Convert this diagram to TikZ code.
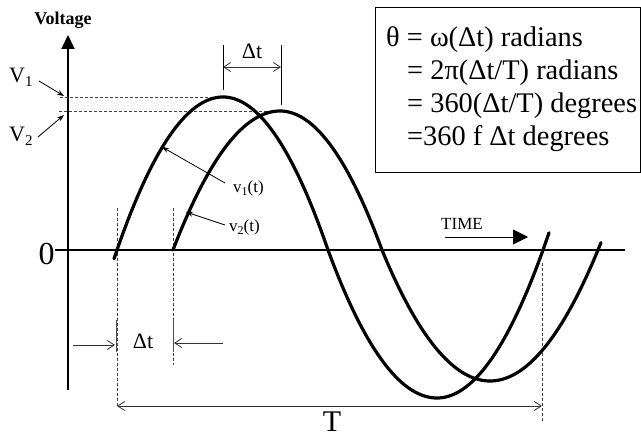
\documentclass[tikz,border=0pt]{standalone}
\usepackage{fontspec}
\setmainfont{Liberation Serif}
\usetikzlibrary{arrows.meta}
\begin{document}
\begin{tikzpicture}[x=1pt,y=-1pt,
  wave/.style={line width=3.2pt, line join=round, line cap=round},
  dashln/.style={line width=0.7pt, dash pattern=on 3pt off 2pt, black!75},
  dimln/.style={line width=0.8pt, black!80, >={Straight Barb[length=7pt,width=9pt]}},
  ptr/.style={line width=0.8pt, -{Stealth[length=7pt,width=5pt]}},
  txt/.style={inner sep=0pt, font=\fontsize{17}{20}\selectfont},
  boxtxt/.style={inner sep=0pt, anchor=base west, font=\fontsize{28.4}{32}\selectfont},
  bigtxt/.style={inner sep=0pt, font=\fontsize{32}{36}\selectfont},
  midtxt/.style={inner sep=0pt, font=\fontsize{22}{26}\selectfont}]
\useasboundingbox (0,0) rectangle (641,438);
% formula box
\draw[line width=0.9pt] (375,7) rectangle (640,172);
\node[boxtxt] (f1) at (386,47) {θ = ω(Δt) radians};
\node[boxtxt] (f2) at (407,80) {= 2π(Δt/T) radians};
\node[boxtxt] (f3) at (407,113) {= 360(Δt/T) degrees};
\node[boxtxt] (f4) at (407,146) {=360 f Δt degrees};
% axes
\coordinate (ybot) at (68,390);
\coordinate (ytop) at (68,35);
\draw[line width=2pt,-{Triangle[length=14pt,width=13pt]}] (ybot) -- (ytop);
\coordinate (xl) at (55,250);
\coordinate (xr) at (625,250);
\draw[line width=1.4pt] (xl) -- (xr);
\node[inner sep=0pt, font=\bfseries\fontsize{18}{20}\selectfont] (vlab) at (63,20) {Voltage};
\node[bigtxt] (zero) at (46.5,254) {0};
% dashed helper lines
\coordinate (p1) at (223,97);
\coordinate (p2) at (280,111);
\coordinate (p1l) at (60,97);
\coordinate (p2l) at (59,111);
\draw[dashln] (p1l) -- (p1);
\draw[dashln] (p2l) -- (p2);
\coordinate (d1t) at (117,208);
\coordinate (d1b) at (117,407);
\coordinate (d2t) at (173,208);
\coordinate (d2b) at (173,365);
\coordinate (d3t) at (542,263);
\coordinate (d3b) at (542,423);
\draw[dashln] (d1t) -- (d1b);
\draw[dashln] (d2t) -- (d2b);
\draw[dashln] (d3t) -- (d3b);
% waves
\draw[wave] plot[domain=114:223,samples=40] (\x,{97+153*((\x-223)/106)*((\x-223)/106)})
  -- plot[domain=223:328,samples=40] (\x,{97+153*((\x-223)/105)*((\x-223)/105)})
  -- plot[domain=328:437,samples=40] (\x,{398-148*((\x-437)/109)*((\x-437)/109)})
  -- plot[domain=437:549,samples=40] (\x,{398-148*((\x-437)/106)*((\x-437)/106)});
\draw[wave] plot[domain=173:280,samples=40] (\x,{111+139*((\x-280)/107)*((\x-280)/107)})
  -- plot[domain=280:382,samples=40] (\x,{111+139*((\x-280)/102)*((\x-280)/102)})
  -- plot[domain=382:490,samples=40] (\x,{381-131*((\x-490)/108)*((\x-490)/108)})
  -- plot[domain=490:601,samples=40] (\x,{381-131*((\x-490)/108)*((\x-490)/108)});
% top delta t
\coordinate (t1a) at (223,45);
\coordinate (t1b) at (223,90);
\coordinate (t2a) at (281,45);
\coordinate (t2b) at (281,105);
\draw[line width=0.8pt] (t1a) -- (t1b);
\draw[line width=0.8pt] (t2a) -- (t2b);
\coordinate (ta) at (223,67);
\coordinate (tb) at (281,67);
\draw[dimln,<->] (ta) -- (tb);
\node[midtxt] (dtop) at (252,51) {Δt};
% bottom delta t
\coordinate (k1a) at (116,320);
\coordinate (k1b) at (116,352);
\coordinate (k2a) at (173,320);
\coordinate (k2b) at (173,352);
\draw[line width=0.9pt, black!70] (k1a) -- (k1b);
\draw[line width=0.9pt, black!70] (k2a) -- (k2b);
\coordinate (b1s) at (73,345);
\coordinate (b1e) at (115,345);
\coordinate (b2s) at (223,343);
\coordinate (b2e) at (174,343);
\draw[dimln,->] (b1s) -- (b1e);
\draw[dimln,->] (b2s) -- (b2e);
\node[midtxt] (dbot) at (143,341) {Δt};
% period T
\coordinate (pa) at (117,406);
\coordinate (pb) at (542,406);
\draw[dimln,<->] (pa) -- (pb);
\node[inner sep=0pt, font=\fontsize{30}{34}\selectfont, anchor=base] (tlab) at (332,432) {T};
% TIME
\node[txt] (time) at (462,224) {TIME};
\coordinate (ts) at (445,237);
\coordinate (te) at (528,237);
\draw[line width=0.9pt,-{Triangle[length=15pt,width=15pt]}] (ts) -- (te);
% V labels
\node[midtxt, anchor=base west] (V1) at (9,83) {V{\fontsize{15}{15}\selectfont\raisebox{-4pt}{1}}};
\node[midtxt, anchor=base west] (V2) at (9,142) {V{\fontsize{15}{15}\selectfont\raisebox{-4pt}{2}}};
\coordinate (v1tip) at (64,96);
\coordinate (v2tip) at (64,115);
\coordinate (v1from) at (39,81);
\coordinate (v2from) at (38,137);
\draw[ptr] (v1from) -- (v1tip);
\draw[ptr] (v2from) -- (v2tip);
% curve labels
\node[txt, anchor=west] (c1) at (233,188) {v{\fontsize{12}{12}\selectfont\raisebox{-3pt}{1}}(t)};
\node[txt, anchor=west] (c2) at (229,227) {v{\fontsize{12}{12}\selectfont\raisebox{-3pt}{2}}(t)};
\coordinate (c1tip) at (162,147);
\coordinate (c2tip) at (186,212);
\coordinate (c1from) at (225,183);
\coordinate (c2from) at (225,225);
\draw[ptr] (c1from) -- (c1tip);
\draw[ptr] (c2from) -- (c2tip);
\end{tikzpicture}
\end{document}
